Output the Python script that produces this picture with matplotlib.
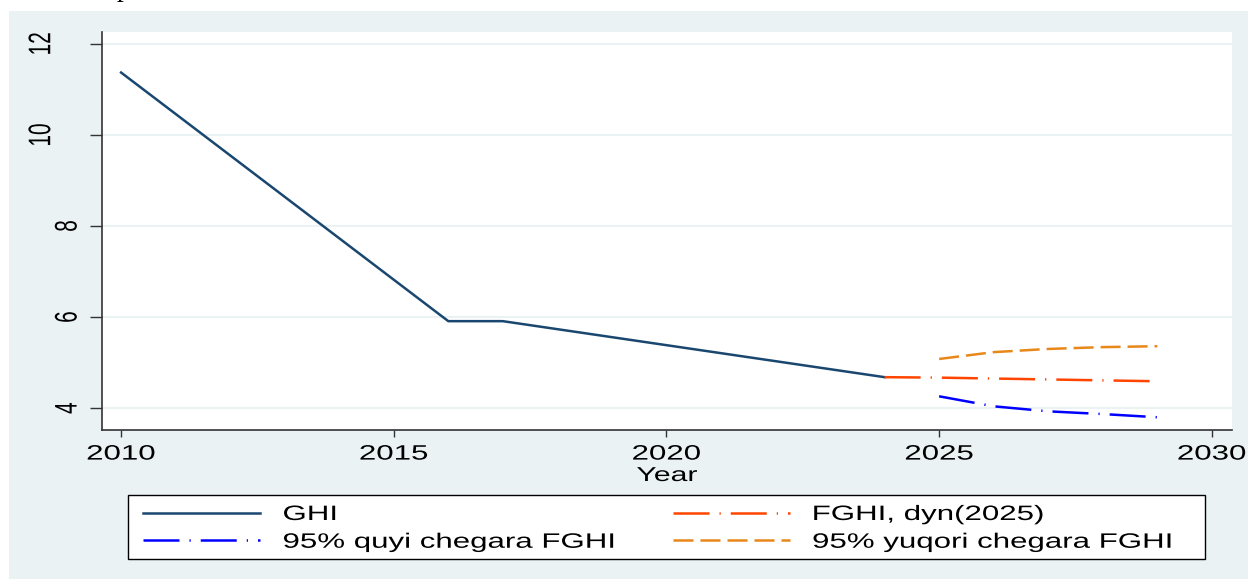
import matplotlib
matplotlib.use("Agg")
import matplotlib.pyplot as plt
from matplotlib.patches import Rectangle
from matplotlib.patheffects import AbstractPathEffect
from matplotlib.transforms import Affine2D

# data
years_ghi = [2010, 2016, 2017, 2024]
ghi = [11.37, 5.91, 5.91, 4.68]

years_fc = [2024, 2025, 2026, 2027, 2028, 2029]
fghi = [4.68, 4.67, 4.65, 4.63, 4.61, 4.59]

years_ci = [2025, 2026, 2027, 2028, 2029]
lower95 = [4.26, 4.04, 3.93, 3.87, 3.80]
upper95 = [5.08, 5.23, 5.30, 5.34, 5.36]

xticks = [2010, 2015, 2020, 2025, 2030]
yticks = [4, 6, 8, 10, 12]

W, H = 1248, 579
BG = "#EAF2F3"
FONT = "Liberation Sans"
SX = 1.5  # the exported graph is stretched sideways, so is its text


class Stretch(AbstractPathEffect):
    """widen the glyphs sideways around the text's left edge or centre"""

    def __init__(self, sx=SX, anchor="center"):
        super().__init__()
        self.sx, self.anchor = sx, anchor

    def draw_path(self, renderer, gc, tpath, affine, rgbFace=None):
        ext = tpath.get_extents(affine)
        x0 = ext.x0 if self.anchor == "left" else 0.5 * (ext.x0 + ext.x1)
        affine = affine + Affine2D().translate(-x0, 0).scale(self.sx, 1).translate(x0, 0)
        renderer.draw_path(gc, tpath, affine, rgbFace)


fig = plt.figure(figsize=(W / 100, H / 100), dpi=100)
fig.patch.set_facecolor("white")
fig.add_artist(Rectangle((9 / W, 0), 1 - 9 / W, 1 - 11 / H,
                         transform=fig.transFigure, facecolor=BG,
                         edgecolor="none", zorder=0))
# cut-off title glyph at the very top
fig.text(124 / W, 1 + 4 / H, "p", family="Liberation Serif", fontsize=20,
         ha="center", va="baseline", color="black")

ax = fig.add_axes([102 / W, 1 - 430 / H, (1232 - 102) / W, (430 - 32) / H])
ax.set_facecolor("white")

lw = 1.8
ax.plot(years_ghi, ghi, color="#1A476F", lw=lw, label="GHI")
ax.plot(years_fc, fghi, color="#FF4500", lw=lw,
        linestyle=(0, (14.4, 4, 0.5, 4)), label="FGHI, dyn(2025)")
ax.plot(years_ci, lower95, color="#0000FF", lw=lw,
        linestyle=(0, (14.4, 4, 0.5, 4)), label="95% quyi chegara FGHI")
ax.plot(years_ci, upper95, color="#E8871A", lw=lw,
        linestyle=(0, (8, 2.8)), label="95% yuqori chegara FGHI")

ax.set_xlim(2009.65, 2030.37)
ax.set_ylim(3.52, 12.26)
ax.set_xticks(xticks)
ax.set_yticks(yticks)
ax.grid(axis="y", color=BG, lw=1.5)
ax.set_axisbelow(True)
for s in ["top", "right"]:
    ax.spines[s].set_visible(False)
for s in ["left", "bottom"]:
    ax.spines[s].set_color("#333333")
    ax.spines[s].set_linewidth(1.2)
ax.tick_params(axis="x", length=5, width=1, color="#333333", pad=5.5,
               labelsize=15)
ax.tick_params(axis="y", length=8.6, width=1, color="#333333",
               labelsize=15, labelrotation=90)
for t, v in zip(ax.yaxis.get_major_ticks(), yticks):
    t.set_pad(28.4 if v >= 10 else 9.4)
for lab in ax.get_xticklabels() + ax.get_yticklabels():
    lab.set_family(FONT)
    lab.set_path_effects([Stretch()])
for lab in ax.get_yticklabels():
    lab.set_va("center")
ax.set_xlabel("Year", family=FONT, fontsize=14.5,
              path_effects=[Stretch()])
ax.xaxis.set_label_coords(0.5, -(466 - 430) / (430 - 32))

# legend: white box, two columns
fig.add_artist(Rectangle((128 / W, 1 - 559 / H), (1205 - 128) / W, (559 - 495) / H,
                         transform=fig.transFigure, facecolor="white",
                         edgecolor="black", lw=1.0, zorder=2))
h, l = ax.get_legend_handles_labels()
order = [0, 2, 1, 3]
leg = fig.legend([h[i] for i in order], [l[i] for i in order],
                 loc="upper left", bbox_to_anchor=(143 / W, 1 - 505 / H),
                 ncol=2, frameon=False, borderpad=0, borderaxespad=0,
                 handlelength=5.62, handletextpad=1.1, columnspacing=8.0,
                 labelspacing=0.42, prop={"family": FONT, "size": 15})
leg.set_zorder(3)
for txt in leg.get_texts():
    txt.set_path_effects([Stretch(anchor="left")])

fig.savefig("out.png", dpi=100, facecolor=fig.get_facecolor())
